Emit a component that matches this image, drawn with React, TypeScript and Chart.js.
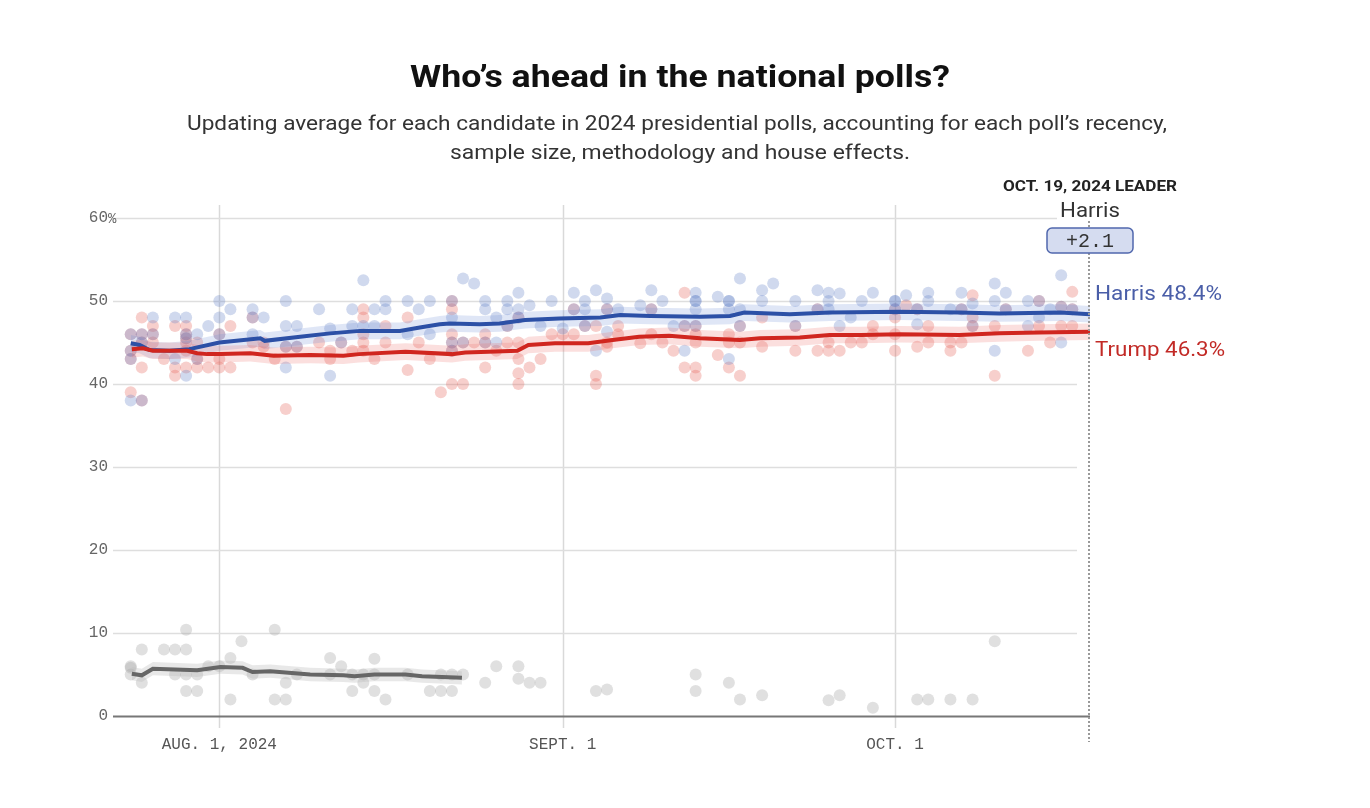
import { useEffect, useRef } from "react";
import { Chart, registerables } from "chart.js";

Chart.register(...registerables);

// ---- axis (days relative to Aug. 1, 2024) ----
const X_MIN = -9.6;
const X_MAX = 78.6;
const X_TICK_DAYS = [0, 31, 61];
const X_TICK_LABELS = ["AUG. 1, 2024", "SEPT. 1", "OCT. 1"];
const Y_TICKS = [0, 10, 20, 30, 40, 50, 60];

// ---- polling averages ----
const HARRIS_AVG_DAYS = [-8, -7.2, -6.3, -4.5, -2.7, 0, 3.7, 4.1, 7.3, 10, 12.7, 16.3, 18.1, 19.9, 20.8, 23.5, 25.3, 27.6, 30.7, 34.4, 36.2, 38.9, 43.4, 46.1, 47.4, 51.5, 55.1, 61.4, 66.8, 70.4, 75.9, 78.6];
const HARRIS_AVG = [44.9, 44.7, 44.1, 44.0, 44.2, 45.0, 45.5, 45.2, 45.7, 46.1, 46.4, 46.4, 46.8, 47.2, 47.3, 47.2, 47.3, 47.7, 47.9, 48.0, 48.3, 48.2, 48.1, 48.2, 48.6, 48.4, 48.6, 48.7, 48.6, 48.5, 48.6, 48.4];

const TRUMP_AVG_DAYS = [-7.9, -6.9, -6.0, -2.9, -2.0, -1.1, 0.1, 2.8, 4.9, 8.2, 11.2, 12.6, 16.8, 21.0, 22.2, 24.3, 26.9, 27.9, 30.3, 33.3, 35.5, 37.9, 40.6, 43.4, 47.0, 48.8, 52.4, 55.1, 57.9, 61.4, 66.8, 70.4, 74.0, 78.6];
const TRUMP_AVG = [44.2, 44.3, 44.0, 44.0, 43.7, 43.6, 43.6, 43.7, 43.4, 43.5, 43.4, 43.6, 43.9, 43.6, 43.8, 43.9, 44.0, 44.7, 44.9, 44.9, 45.3, 45.7, 45.8, 45.5, 45.3, 45.5, 45.6, 45.9, 45.9, 46.0, 45.9, 46.1, 46.2, 46.3];

const OTHER_AVG_DAYS = [-7.9, -7.0, -6.0, -2.0, 0.1, 2.1, 3.0, 4.6, 8.2, 11.2, 12.2, 14.0, 16.8, 18.3, 21.9];
const OTHER_AVG = [5.1, 4.9, 5.7, 5.5, 5.9, 5.8, 5.3, 5.4, 5.0, 4.9, 4.8, 5.0, 5.0, 4.8, 4.6];

// half-width of the shaded uncertainty bands (points)
const HARRIS_BAND = 1.0;
const TRUMP_BAND = 1.0;
const OTHER_BAND = 0.8;

// ---- individual polls [day, value] ----
const HARRIS_POLLS: [number, number][] = [
  [-8, 46], [-8, 44], [-8, 43], [-8, 38], [-7, 46], [-7, 45], [-7, 38], [-6, 48], [-6, 46],
  [-4, 48], [-4, 43], [-3, 48], [-3, 46], [-3, 45.5], [-3, 41], [-2, 46], [-2, 43], [-1, 47],
  [0, 50], [0, 48], [0, 46], [1, 49], [3, 49], [3, 48], [3, 46], [4, 48], [6, 50], [6, 47], [6, 44.5], [6, 42],
  [7, 47], [7, 44.5], [9, 49], [10, 46.7], [10, 41], [11, 45], [12, 49], [12, 47], [13, 52.5], [13, 47],
  [14, 49], [14, 47], [15, 50], [15, 49], [17, 50], [17, 46], [18, 49], [19, 50], [19, 46],
  [21, 50], [21, 48], [21, 45], [21, 44], [22, 52.7], [22, 45], [23, 52.1], [24, 50], [24, 49], [24, 45],
  [25, 48], [25, 45], [26, 50], [26, 49], [26, 47], [27, 51], [27, 49], [27, 48], [28, 49.5], [29, 47],
  [30, 50], [31, 46.7], [32, 51], [32, 49], [33, 50], [33, 49], [33, 47], [34, 51.3], [34, 44],
  [35, 50.3], [35, 49], [35, 46.3], [36, 49], [38, 49.5], [39, 51.3], [39, 49], [40, 50], [41, 47],
  [42, 47], [42, 44], [43, 51], [43, 50], [43, 50], [43, 49], [43, 47], [45, 50.5], [46, 50], [46, 50],
  [46, 49], [46, 43], [47, 52.7], [47, 49], [47, 47], [49, 51.3], [49, 50], [50, 52.1], [52, 50], [52, 47],
  [54, 51.3], [54, 49], [55, 51], [55, 50], [55, 49], [56, 50.9], [56, 47], [57, 48], [58, 50], [59, 51],
  [61, 50], [61, 50], [61, 49], [62, 50.7], [63, 49], [63, 47.2], [64, 51], [64, 50], [66, 49],
  [67, 51], [67, 49], [68, 49.7], [68, 47], [70, 52.1], [70, 50], [70, 44], [71, 51], [71, 49],
  [73, 50], [73, 47], [74, 50], [74, 48], [75, 49], [76, 53.1], [76, 49.3], [76, 45], [77, 49],
];

const TRUMP_POLLS: [number, number][] = [
  [-8, 46], [-8, 44], [-8, 43], [-8, 39], [-7, 48], [-7, 46], [-7, 45], [-7, 42], [-7, 38],
  [-6, 47], [-6, 46], [-6, 45], [-5, 43], [-4, 47], [-4, 42], [-4, 41], [-3, 47], [-3, 46], [-3, 45.5],
  [-3, 45], [-3, 44], [-3, 42], [-2, 45], [-2, 43], [-2, 42], [-1, 42], [0, 46], [0, 43], [0, 42],
  [1, 47], [1, 42], [3, 48], [3, 45], [4, 45], [4, 44.5], [5, 43], [6, 44.5], [6, 37], [7, 44.5],
  [9, 45], [10, 44], [10, 43], [11, 45], [12, 44], [13, 49], [13, 48], [13, 46], [13, 45], [13, 44],
  [14, 43], [15, 47], [15, 45], [17, 48], [17, 41.7], [18, 45], [19, 43], [20, 39],
  [21, 50], [21, 49], [21, 46], [21, 45], [21, 44], [21, 40], [22, 45], [22, 40], [23, 45],
  [24, 46], [24, 45], [24, 42], [25, 44], [26, 47], [26, 45], [27, 48], [27, 45], [27, 43], [27, 41.3], [27, 40],
  [28, 42], [29, 43], [30, 46], [31, 46], [32, 49], [32, 46], [33, 47], [34, 47], [34, 41], [34, 40],
  [35, 49], [35, 45], [35, 44.5], [36, 47], [36, 46], [38, 44.9], [39, 49], [39, 46], [40, 45], [41, 44],
  [42, 51], [42, 47], [42, 42], [43, 47], [43, 46], [43, 45], [43, 42], [43, 41], [45, 43.5],
  [46, 46], [46, 45], [46, 42], [47, 47], [47, 45], [47, 41], [49, 48], [49, 44.5], [52, 47], [52, 44],
  [54, 49], [54, 44], [55, 45], [55, 44], [56, 44], [57, 45], [58, 45], [59, 47], [59, 46],
  [61, 49], [61, 48], [61, 46], [61, 44], [62, 49.5], [63, 49], [63, 44.5], [64, 47], [64, 45],
  [66, 45], [66, 44], [67, 49], [67, 45], [68, 50.7], [68, 48], [68, 47], [70, 47], [70, 41], [71, 49],
  [73, 44], [74, 50], [74, 47], [75, 45], [76, 49.3], [76, 47], [77, 51.1], [77, 49], [77, 47],
];

const OTHER_POLLS: [number, number][] = [
  [-8, 6], [-8, 5.8], [-8, 5], [-7, 8], [-7, 4], [-5, 8], [-4, 8], [-4, 5], [-3, 10.4], [-3, 8], [-3, 5], [-3, 3],
  [-2, 5], [-2, 3], [-1, 6], [0, 6], [1, 7], [1, 2], [2, 9], [3, 5], [5, 10.4], [5, 2], [6, 4], [6, 2], [7, 5],
  [10, 7], [10, 5], [11, 6], [12, 5], [12, 3], [13, 4], [13, 5], [14, 6.9], [14, 5], [14, 3], [15, 2], [17, 5],
  [19, 3], [20, 5], [20, 3], [21, 5], [21, 3], [22, 5], [24, 4], [25, 6], [27, 6], [27, 4.5], [28, 4], [29, 4],
  [34, 3], [35, 3.2], [43, 5], [43, 3], [46, 4], [47, 2], [49, 2.5], [55, 1.9], [56, 2.5], [59, 1],
  [63, 2], [64, 2], [66, 2], [68, 2], [70, 9],
];

// ---- text ----
const TITLE = "Who’s ahead in the national polls?";
const SUBTITLE_LINES = [
  "Updating average for each candidate in 2024 presidential polls, accounting for each poll’s recency,",
  "sample size, methodology and house effects.",
];
const LEADER_DATE = "OCT. 19, 2024 LEADER";
const LEADER_NAME = "Harris";
const LEADER_MARGIN = "+2.1";
const HARRIS_LABEL = "Harris 48.4%";
const TRUMP_LABEL = "Trump 46.3%";
const HARRIS_FINAL = 48.4;
const TRUMP_FINAL = 46.3;

const BLUE = "#2c50a6";
const RED = "#d0261f";
const GRAY_LINE = "#666666";

const pts = (days: number[], vals: number[], off = 0) => days.map((d, i) => ({ x: d, y: vals[i] + off }));
const polls = (arr: [number, number][]) => arr.map(([x, y]) => ({ x, y }));

const MONO = "'Liberation Mono', 'DejaVu Sans Mono', monospace";
const SANS = "Roboto, 'Liberation Sans', sans-serif";

// draw text stretched horizontally to a given width
function fitText(ctx: CanvasRenderingContext2D, text: string, x: number, y: number, font: string, width: number, align: CanvasTextAlign) {
  ctx.save();
  ctx.font = font;
  const w = ctx.measureText(text).width;
  const s = width / w;
  ctx.translate(x, y);
  ctx.scale(s, 1);
  ctx.textAlign = align;
  ctx.fillText(text, 0, 0);
  ctx.restore();
}

const decorPlugin = {
  id: "decor",
  beforeDatasetsDraw(chart: any) {
    const { ctx, chartArea, scales } = chart;
    const x = scales.x;
    const y = scales.y;
    ctx.save();
    ctx.strokeStyle = "#d9d9d9";
    ctx.lineWidth = 1.5;
    for (const d of X_TICK_DAYS) {
      const px = Math.round(x.getPixelForValue(d)) + 0.5;
      ctx.beginPath();
      ctx.moveTo(px, chartArea.top - 13);
      ctx.lineTo(px, chartArea.bottom + 12);
      ctx.stroke();
    }
    for (const v of Y_TICKS) {
      const py = Math.round(y.getPixelForValue(v)) + 0.5;
      ctx.beginPath();
      if (v === 0) {
        ctx.strokeStyle = "#777";
        ctx.lineWidth = 2;
        ctx.moveTo(chartArea.left, py);
        ctx.lineTo(chartArea.right, py);
      } else {
        ctx.strokeStyle = "#dedede";
        ctx.lineWidth = 1.5;
        ctx.moveTo(chartArea.left, py);
        ctx.lineTo(chartArea.right - (v === 60 ? 33 : 13), py);
      }
      ctx.stroke();
    }
    ctx.fillStyle = "#666";
    ctx.font = `16px ${MONO}`;
    ctx.textBaseline = "middle";
    for (const v of Y_TICKS) {
      const py = y.getPixelForValue(v);
      ctx.textAlign = "right";
      ctx.fillText(String(v), chartArea.left - 5, py);
      if (v === 60) {
        ctx.textAlign = "left";
        ctx.font = `14px ${MONO}`;
        ctx.fillText("%", chartArea.left - 5, py + 1);
        ctx.font = `16px ${MONO}`;
      }
    }
    ctx.restore();
  },
  afterDraw(chart: any) {
    const { ctx, chartArea, scales } = chart;
    const x = scales.x;
    const y = scales.y;
    ctx.save();
    ctx.textBaseline = "alphabetic";
    // title + subtitle
    ctx.fillStyle = "#111";
    fitText(ctx, TITLE, 680, 87, `bold 31px ${SANS}`, 540, "center");
    ctx.fillStyle = "#333";
    fitText(ctx, SUBTITLE_LINES[0], 677, 130, `21px ${SANS}`, 980, "center");
    fitText(ctx, SUBTITLE_LINES[1], 680, 159, `21px ${SANS}`, 460, "center");

    // leader annotation
    const ex = x.getPixelForValue(X_MAX) - 1;
    ctx.strokeStyle = "#999";
    ctx.lineWidth = 2;
    ctx.setLineDash([2, 2]);
    ctx.beginPath();
    ctx.moveTo(ex, 221);
    ctx.lineTo(ex, chartArea.bottom + 26);
    ctx.stroke();
    ctx.setLineDash([]);

    ctx.fillStyle = "#222";
    fitText(ctx, LEADER_DATE, ex + 1, 191, `bold 15px ${SANS}`, 174, "center");
    ctx.fillStyle = "#333";
    fitText(ctx, LEADER_NAME, ex + 1, 217, `21px ${SANS}`, 60, "center");

    // margin box
    const bw = 86, bh = 25, bx = ex - bw / 2 + 1, by = 228;
    ctx.beginPath();
    ctx.roundRect(bx, by, bw, bh, 5);
    ctx.fillStyle = "#d5dcf0";
    ctx.fill();
    ctx.strokeStyle = "#5067ad";
    ctx.lineWidth = 1.5;
    ctx.stroke();
    ctx.fillStyle = "#333";
    ctx.font = `20px ${MONO}`;
    ctx.textAlign = "center";
    ctx.textBaseline = "middle";
    ctx.fillText(LEADER_MARGIN, ex + 1, by + bh / 2 + 1);

    // end labels
    ctx.textBaseline = "alphabetic";
    ctx.fillStyle = "#4a5ea8";
    fitText(ctx, HARRIS_LABEL, ex + 6, y.getPixelForValue(HARRIS_FINAL) - 14, `21px ${SANS}`, 127, "left");
    ctx.fillStyle = "#c22a26";
    fitText(ctx, TRUMP_LABEL, ex + 6, y.getPixelForValue(TRUMP_FINAL) + 24, `21px ${SANS}`, 130, "left");
    ctx.restore();
  },
};

export default function App() {
  const ref = useRef<HTMLCanvasElement>(null);

  useEffect(() => {
    const canvas = ref.current;
    if (!canvas) return;
    const band = (days: number[], vals: number[], w: number, color: string) => [
      { type: "line" as const, data: pts(days, vals, w), borderWidth: 0, pointRadius: 0, backgroundColor: color, fill: "+1", order: 5 },
      { type: "line" as const, data: pts(days, vals, -w), borderWidth: 0, pointRadius: 0, backgroundColor: color, fill: false, order: 5 },
    ];
    const chart = new Chart(canvas, {
      type: "line",
      data: {
        datasets: [
          { type: "scatter", data: polls(OTHER_POLLS), pointRadius: 6, pointBackgroundColor: "rgba(165,165,165,0.35)", pointBorderWidth: 0, order: 10 } as any,
          { type: "scatter", data: polls(TRUMP_POLLS), pointRadius: 6, pointBackgroundColor: "rgba(228,95,85,0.3)", pointBorderWidth: 0, order: 9 } as any,
          { type: "scatter", data: polls(HARRIS_POLLS), pointRadius: 6, pointBackgroundColor: "rgba(100,128,200,0.3)", pointBorderWidth: 0, order: 8 } as any,
          ...band(OTHER_AVG_DAYS, OTHER_AVG, OTHER_BAND, "rgba(190,190,190,0.35)"),
          ...band(TRUMP_AVG_DAYS, TRUMP_AVG, TRUMP_BAND, "rgba(235,110,105,0.22)"),
          ...band(HARRIS_AVG_DAYS, HARRIS_AVG, HARRIS_BAND, "rgba(110,140,215,0.22)"),
          { type: "line", data: pts(OTHER_AVG_DAYS, OTHER_AVG), borderColor: GRAY_LINE, borderWidth: 4, pointRadius: 0, fill: false, order: 1 },
          { type: "line", data: pts(TRUMP_AVG_DAYS, TRUMP_AVG), borderColor: RED, borderWidth: 4, pointRadius: 0, fill: false, order: 1 },
          { type: "line", data: pts(HARRIS_AVG_DAYS, HARRIS_AVG), borderColor: BLUE, borderWidth: 4, pointRadius: 0, fill: false, order: 1 },
        ] as any,
      },
      options: {
        animation: false,
        responsive: false,
        devicePixelRatio: 1,
        layout: { padding: { left: 113, right: 280, top: 218, bottom: 12 } },
        plugins: { legend: { display: false }, tooltip: { enabled: false } },
        elements: { line: { tension: 0 } },
        scales: {
          x: {
            type: "linear",
            min: X_MIN,
            max: X_MAX,
            grid: { display: false, drawTicks: false },
            border: { display: false },
            afterBuildTicks: (s: any) => {
              s.ticks = X_TICK_DAYS.map((v) => ({ value: v }));
            },
            afterFit: (s: any) => {
              s.height = 80;
            },
            ticks: {
              autoSkip: false,
              maxRotation: 0,
              padding: 19,
              color: "#555",
              font: { family: MONO, size: 16 },
              callback: (v: any) => {
                const i = X_TICK_DAYS.indexOf(Number(v));
                return i >= 0 ? X_TICK_LABELS[i] : "";
              },
            },
          },
          y: {
            type: "linear",
            min: 0,
            max: 60,
            grid: { display: false },
            border: { display: false },
            ticks: { display: false, stepSize: 10 },
            afterFit: (s: any) => {
              s.width = 0;
            },
          },
        },
      },
      plugins: [decorPlugin],
    });
    return () => chart.destroy();
  }, []);

  return (
    <div style={{ position: "fixed", left: 0, top: 0, width: 1370, height: 808, background: "#fff" }}>
      <canvas ref={ref} width={1370} height={808} style={{ display: "block" }} />
    </div>
  );
}
